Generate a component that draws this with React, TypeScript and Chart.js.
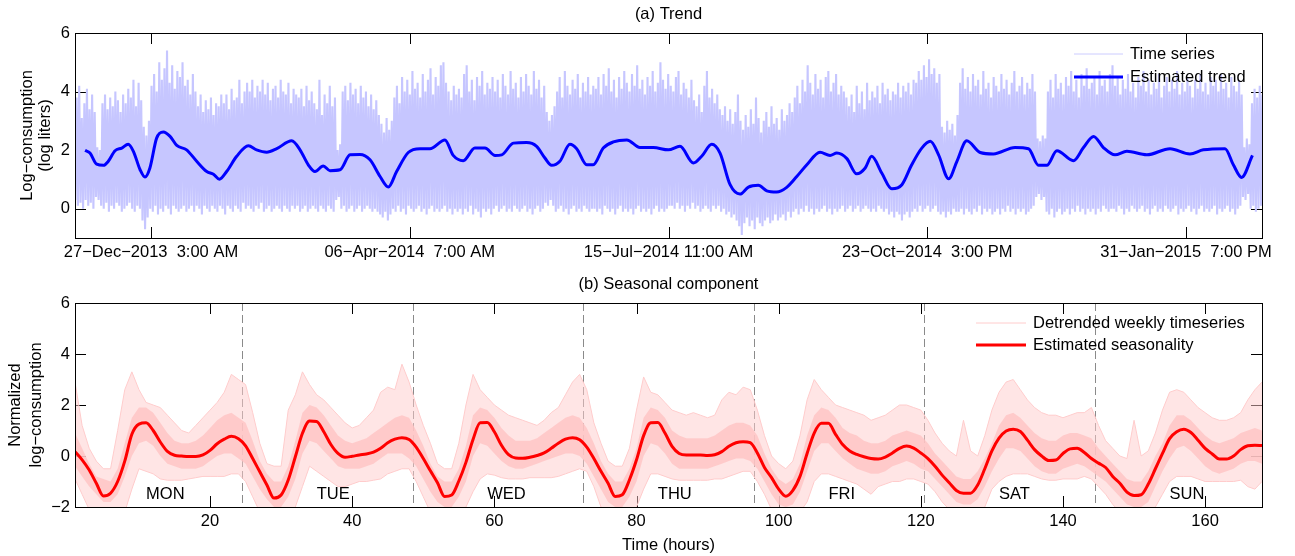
import React, { useEffect, useRef } from "react";
import { Chart, registerables } from "chart.js";

Chart.register(...registerables);

const FONT_FAMILY = '"Liberation Sans", Arial, Helvetica, sans-serif';
const FS = 16.5;

// ---------------- (a) Trend ----------------
const trendXMaxHours = 11028;
const trendTickHours = [706, 3110, 5514, 7918, 10322];
const trendTickLabels = [
  "27−Dec−2013  3:00 AM",
  "06−Apr−2014  7:00 AM",
  "15−Jul−2014 11:00 AM",
  "23−Oct−2014  3:00 PM",
  "31−Jan−2015  7:00 PM",
];
const trendYTicks = [0, 2, 4, 6];

// daily peak of the raw log-consumption series (one value per day)
const tsDailyHigh = [
  3.8,4.2,3.1,3.6,4.1,3.4,3.9,3.3,
  2.1,2.0,
  3.6,3.9,3.4,3.8,3.5,4.0,3.7,3.3,3.9,3.6,4.1,3.8,4.4,3.5,4.3,3.7,
  2.8,2.5,3.0,
  4.2,4.6,4.0,5.0,4.4,4.8,5.4,4.3,4.9,4.1,4.7,4.5,5.0,4.2,4.4,3.9,4.6,4.0,
  3.5,3.9,3.3,3.7,3.4,3.8,3.2,3.6,3.5,3.9,
  3.6,3.9,3.4,4.1,3.7,3.8,4.4,3.6,4.0,4.3,
  4.0,4.4,3.8,4.2,4.0,4.4,3.9,4.3,3.7,4.1,4.2,3.8,4.4,4.0,3.9,4.3,3.6,4.1,3.9,
  3.8,4.1,3.5,4.2,3.7,4.0,3.6,
  3.4,4.4,3.2,3.9,3.6,4.2,3.5,3.8,
  2.0,2.2,
  4.0,4.2,3.7,4.3,3.9,4.1,3.6,4.2,3.8,4.0,3.5,3.9,3.4,3.7,3.2,
  2.9,2.6,3.1,2.7,3.0,
  3.8,4.2,3.6,4.5,4.0,4.4,3.9,4.7,4.1,4.3,3.8,4.6,4.0,4.4,4.8,3.9,4.5,4.2,4.9,5.0,4.3,
  4.0,3.7,4.2,3.9,4.1,
  3.8,4.6,4.9,4.0,4.4,3.7,4.5,4.2,4.7,3.9,4.3,4.1,4.5,
  4.0,4.4,3.8,4.6,4.2,3.9,4.7,4.1,4.3,3.8,4.5,4.0,4.6,4.2,3.9,4.7,4.1,4.4,3.8,4.2,
  3.3,3.0,3.2,3.5,
  4.0,4.5,3.8,4.7,4.2,3.9,4.4,4.1,4.6,3.8,4.3,4.0,4.5,3.9,4.2,
  4.1,4.5,3.9,4.6,4.2,4.8,4.0,4.4,3.8,4.5,4.1,4.7,4.3,4.0,4.6,4.2,4.9,4.1,4.4,3.9,4.5,4.2,4.7,4.0,4.3,5.0,4.4,4.1,4.6,4.2,
  4.0,4.5,4.7,3.9,4.3,4.1,3.8,4.4,3.7,
  3.5,3.9,3.3,4.2,4.7,3.8,4.1,3.6,3.9,3.4,
  3.2,3.5,3.0,3.4,2.9,3.3,
  3.9,3.0,2.7,3.2,2.8,3.4,2.9,3.8,3.1,2.6,3.0,3.3,2.8,3.5,2.9,3.1,2.7,3.4,3.0,3.2,3.6,3.3,
  3.8,4.2,3.6,4.4,4.0,4.9,4.3,3.9,4.6,4.1,4.4,3.8,4.5,4.7,4.0,4.3,4.6,3.9,4.2,4.0,3.8,
  3.5,3.9,3.3,4.2,3.6,4.0,3.4,4.3,3.7,4.0,
  3.8,4.2,3.6,4.3,3.9,4.1,3.7,4.0,
  3.9,4.3,3.8,4.2,4.0,4.3,3.9,4.4,
  4.3,4.7,4.4,4.9,4.5,5.1,4.6,4.8,4.3,4.6,
  2.8,2.6,3.0,2.7,2.9,2.5,3.2,
  4.3,4.8,4.1,4.5,4.0,4.6,4.2,4.4,3.9,4.7,4.1,4.3,3.8,4.5,4.2,4.0,4.6,4.1,4.4,3.9,4.3,4.7,4.0,4.2,4.5,3.9,4.3,4.1,4.6,4.0,
  2.4,2.3,2.5,2.4,
  4.0,4.4,3.8,4.6,4.1,4.3,3.9,4.5,4.2,4.7,4.0,4.4,3.8,4.6,4.2,4.8,4.1,4.3,4.5,3.9,4.7,4.2,4.4,4.0,4.6,4.9,
  4.2,4.5,3.9,4.4,4.1,4.6,4.0,4.3,3.8,4.5,4.2,4.7,4.0,4.4,3.9,4.3,4.1,4.6,3.8,4.2,4.5,4.0,4.4,4.1,4.7,3.9,4.3,4.0,4.5,4.2,3.8,4.4,4.1,4.6,4.0,4.3,3.9,4.5,4.2,4.4,4.0,4.6,4.1,4.3,3.8,4.5,4.2,4.0,4.4,3.9,
  2.1,2.4,2.2,
  3.6,4.1,3.8,4.2,3.9,
];

// daily (night) minimum of the raw series (one value per day)
const tsDailyLow = [
  0.3,0.1,0.2,0.0,0.3,0.1,0.2,0.0,
  0.4,0.3,
  0.1,0.0,0.2,-0.1,0.1,0.0,0.2,0.1,-0.1,0.0,0.1,0.2,0.0,-0.1,0.1,0.0,
  -0.4,-0.7,-0.3,
  0.0,-0.1,0.1,-0.2,0.0,-0.1,0.1,0.0,-0.2,0.1,0.0,-0.1,0.0,0.1,-0.1,0.0,0.1,-0.1,
  0.1,0.0,-0.2,0.1,0.0,-0.1,0.1,0.0,-0.1,0.1,
  0.0,-0.2,0.1,0.0,-0.1,0.1,0.0,-0.1,0.2,0.0,
  0.1,0.0,-0.1,0.1,0.0,0.2,-0.1,0.0,0.1,-0.1,0.0,0.1,0.0,-0.1,0.1,0.0,-0.1,0.1,0.0,
  0.1,-0.1,0.0,0.1,-0.1,0.0,0.1,
  0.0,-0.1,0.1,0.0,-0.1,0.1,0.0,-0.1,
  0.3,0.4,
  0.0,0.1,-0.1,0.0,0.1,-0.1,0.0,0.1,-0.1,0.0,0.1,0.0,-0.1,0.0,-0.1,
  -0.2,-0.3,-0.1,-0.4,-0.2,
  0.0,-0.1,0.1,-0.1,0.0,-0.2,0.1,0.0,-0.1,0.0,0.1,-0.1,0.0,-0.2,0.0,0.1,-0.1,0.0,-0.1,0.0,0.1,
  -0.1,0.0,-0.2,0.0,-0.1,
  0.0,-0.2,0.0,-0.1,0.1,-0.2,0.0,-0.1,-0.3,0.0,-0.1,0.0,-0.2,
  0.0,0.1,-0.1,0.0,0.1,-0.1,0.0,-0.1,0.1,0.0,-0.1,0.0,0.1,-0.1,0.0,-0.2,0.0,0.1,-0.1,0.0,
  0.2,0.1,0.3,0.1,
  -0.1,0.0,0.1,-0.1,0.0,-0.2,0.0,0.1,-0.1,0.0,-0.1,0.1,0.0,-0.1,0.0,
  0.0,-0.1,0.0,-0.2,0.1,0.0,-0.1,0.0,-0.2,0.0,0.1,-0.1,0.0,-0.1,0.0,-0.2,0.0,0.1,-0.1,0.0,-0.1,0.0,-0.2,0.0,0.1,-0.1,0.0,-0.1,0.0,0.1,
  0.1,0.0,0.2,0.0,0.1,-0.1,0.1,0.0,0.2,
  0.0,0.1,-0.1,0.0,0.1,0.0,-0.1,0.1,0.0,0.1,
  -0.1,0.0,-0.2,-0.1,-0.3,-0.2,
  -0.4,-0.6,-0.9,-0.5,-0.3,-0.6,-0.4,-0.7,-0.3,-0.5,-0.6,-0.4,-0.3,-0.5,-0.4,-0.2,-0.4,-0.3,-0.2,-0.4,-0.1,-0.3,
  -0.1,0.0,-0.2,0.0,-0.1,0.1,-0.1,0.0,-0.2,0.0,-0.1,0.0,0.1,-0.1,0.0,-0.2,0.0,-0.1,0.0,0.1,-0.1,
  0.0,0.1,-0.1,0.0,0.1,-0.1,0.0,0.1,0.0,-0.1,
  0.0,-0.1,0.1,0.0,-0.1,0.0,-0.2,-0.1,
  -0.3,-0.1,-0.2,-0.4,-0.2,-0.1,-0.3,-0.1,
  0.0,-0.1,0.1,-0.1,0.0,0.1,-0.1,0.0,0.1,-0.1,
  -0.2,-0.1,-0.3,-0.1,-0.2,0.0,-0.1,
  -0.1,0.0,-0.2,0.0,-0.1,-0.2,0.0,-0.1,0.1,-0.2,0.0,-0.1,0.0,-0.2,-0.1,0.0,-0.2,0.0,-0.1,0.1,-0.1,0.0,-0.2,0.0,-0.1,0.0,-0.2,-0.1,0.0,0.1,
  0.4,0.5,0.3,0.4,
  -0.1,-0.2,0.0,-0.3,-0.1,0.0,-0.2,-0.1,0.0,-0.2,0.0,-0.1,0.1,-0.1,0.0,-0.2,0.0,-0.1,0.0,-0.2,0.0,-0.1,0.1,0.0,-0.1,0.0,
  0.0,-0.1,0.1,0.0,-0.2,0.0,-0.1,0.1,0.0,-0.1,0.0,0.1,-0.1,0.0,-0.2,0.0,0.1,-0.1,0.0,-0.1,0.1,0.0,-0.1,0.0,0.1,-0.2,0.0,-0.1,0.0,0.1,-0.1,0.0,-0.2,0.0,0.1,-0.1,0.0,-0.1,0.0,0.1,-0.2,0.0,-0.1,0.0,0.1,-0.1,0.0,-0.2,0.0,0.1,
  0.4,0.3,0.5,
  0.0,0.1,-0.1,0.0,0.1,
];

// estimated trend, sampled at these day offsets from the series start
const trendDay = [
  3.9,5.8,8.4,11,12.9,15.5,18.1,20.6,22.6,25.2,27.1,29,31.6,34.2,36.8,39.4,43.2,47.1,51,53.6,
  55.9,58.7,62.6,67.1,70.3,74.2,78.1,83.9,87.1,90.3,92.9,96.1,98.7,102.6,106.5,110.3,114.2,118.1,121.3,124.5,
  129,133.6,137.4,143.2,146.4,150.3,154.8,158.7,162.6,165.2,169.7,174.8,178.7,181.9,184.5,187.7,191.6,194.2,198.1,200.6,
  204.5,208.4,213.6,218.7,223.9,229.7,234.2,239.4,242.6,246.5,249.7,253.6,257.4,260.7,264.5,267.8,271.6,275.5,279.4,283.3,
  288.4,292.3,294.9,298.8,302.6,305.9,308.4,312.3,316.2,320.1,323.9,327.8,331.1,334.3,338.2,341.4,345.2,350.4,355.5,363.9,
  369.1,373,376.2,380.1,386.5,390.4,394.3,398.1,402.6,407.2,414.9,423.9,431.6,436.8,445.2,448.4,451.6,455.8,
];
const trendValue = [
  1.99,1.9,1.52,1.48,1.62,1.98,2.07,2.2,1.96,1.33,1.08,1.39,2.41,2.62,2.47,2.16,2.01,1.62,1.27,1.18,
  1.01,1.27,1.79,2.15,2.01,1.93,2.05,2.32,2.01,1.5,1.27,1.46,1.3,1.33,1.84,1.85,1.67,1.1,0.74,1.27,
  1.92,2.05,2.05,2.35,1.82,1.64,2.07,2.07,1.82,1.84,2.24,2.26,2.13,1.73,1.48,1.62,2.2,2.05,1.5,1.5,
  2.07,2.28,2.35,2.09,2.09,2.01,2.13,1.56,1.79,2.2,1.9,0.82,0.5,0.74,0.8,0.61,0.57,0.73,1.1,1.5,
  1.93,1.82,1.9,1.71,1.19,1.39,1.79,1.22,0.68,0.82,1.5,2.07,2.3,1.84,1.02,1.62,2.32,1.92,1.87,2.09,
  2.05,1.48,1.48,1.98,1.64,2.09,2.47,2.09,1.84,1.96,1.84,2.05,1.87,2.01,2.05,1.5,1.07,1.82,
];

// ---------------- (b) Seasonal component ----------------
const weekHours = Array.from({ length: 168 }, (_, i) => i + 1);
const seasonXTicks = [20, 40, 60, 80, 100, 120, 140, 160];
const seasonYTicks = [-2, 0, 2, 4, 6];
const dayNames = ["MON", "TUE", "WED", "THU", "FRI", "SAT", "SUN"];
const dayLabelHours = [11, 35, 59, 83, 107, 131, 155];
const dayBoundaries = [24.5, 48.5, 72.5, 96.5, 120.5, 144.5];

const seasonality = [
  0.17,-0.15,-0.55,-1.07,-1.57,-1.46,-1.0,-0.2,0.85,1.25,1.3,1.0,0.55,0.18,0.03,0.0,-0.02,-0.02,0.04,0.22,0.48,0.66,0.77,0.68,
  0.4,-0.1,-0.62,-1.14,-1.65,-1.53,-0.94,-0.03,0.89,1.37,1.35,0.95,0.45,0.1,-0.05,-0.01,0.04,0.08,0.15,0.3,0.52,0.66,0.72,0.65,
  0.35,-0.1,-0.58,-1.05,-1.59,-1.53,-0.98,-0.25,0.65,1.3,1.31,0.95,0.42,0.05,-0.08,-0.09,-0.05,0.02,0.12,0.3,0.5,0.66,0.72,0.64,
  0.35,-0.1,-0.6,-1.07,-1.59,-1.52,-0.94,-0.15,0.8,1.3,1.31,0.9,0.38,0.1,0.04,0.04,0.04,0.02,0.05,0.17,0.38,0.52,0.56,0.52,
  0.12,-0.45,-0.85,-1.3,-1.58,-1.35,-0.8,0.1,0.9,1.28,1.28,0.85,0.45,0.2,0.06,-0.03,-0.1,-0.12,-0.04,0.12,0.3,0.39,0.31,0.12,
  -0.1,-0.4,-0.75,-1.05,-1.35,-1.46,-1.46,-1.14,-0.5,0.2,0.7,0.98,1.05,0.96,0.62,0.25,0.0,-0.18,-0.16,0.1,0.28,0.3,0.14,-0.1,
  -0.28,-0.45,-0.8,-1.07,-1.42,-1.55,-1.52,-1.1,-0.5,0.1,0.68,0.95,1.05,0.92,0.62,0.3,0.08,-0.12,-0.12,0.0,0.25,0.4,0.42,0.41,
];

// spread of the ~60 detrended weekly curves: outer extremes and dense core
const weeklyOuterUpper = [
  2.9,1.2,0.3,-0.2,-0.5,-0.5,1.0,2.6,3.3,2.6,2.1,2.0,1.9,1.6,1.3,1.0,0.9,1.2,1.5,1.8,2.1,2.5,3.2,3.0,
  2.8,1.7,0.5,-0.3,-0.4,-0.4,1.8,2.4,3.3,2.8,2.4,2.2,1.9,1.6,1.3,1.1,1.2,1.5,1.8,2.5,2.7,2.6,3.6,2.9,
  2.0,1.2,0.5,-0.3,-0.5,-0.5,0.5,2.0,3.2,2.6,2.3,2.0,1.8,1.6,1.5,1.4,1.3,1.2,1.4,1.7,1.9,2.4,2.9,3.2,
  2.6,1.3,0.5,-0.2,-0.4,-0.4,0.3,1.8,3.1,2.5,2.4,2.1,1.8,1.7,1.6,1.7,1.6,1.5,1.6,2.2,2.5,2.4,2.7,2.6,
  1.8,0.8,0.0,-0.3,-0.5,-0.2,0.8,2.2,3.0,2.6,2.3,2.0,1.9,1.8,1.7,1.6,1.4,1.5,1.6,1.8,2.0,2.0,1.9,1.8,
  1.4,0.9,0.5,0.2,0.0,1.4,0.2,0.0,0.8,1.8,2.5,2.9,3.0,2.6,2.2,1.9,1.7,1.6,1.6,1.5,1.6,1.7,1.7,1.9,
  1.2,0.6,0.3,0.0,-0.1,1.4,0.0,0.2,0.9,1.8,2.5,2.6,2.5,2.2,1.9,1.7,1.5,1.4,1.4,1.5,1.7,2.2,2.6,2.9,
];
const weeklyCoreUpper = [
  0.9,0.3,-0.3,-0.8,-0.9,-1.0,-0.5,0.5,1.5,1.9,1.9,1.7,1.3,0.9,0.6,0.5,0.5,0.6,0.8,1.1,1.4,1.6,1.7,1.5,
  1.3,0.6,-0.2,-0.7,-1.0,-1.0,-0.4,0.6,1.7,2.0,1.9,1.6,1.2,0.8,0.6,0.5,0.6,0.7,0.9,1.1,1.3,1.5,1.6,1.5,
  1.0,0.4,-0.3,-0.8,-1.0,-1.0,-0.5,0.4,1.6,1.9,1.8,1.5,1.1,0.8,0.6,0.6,0.6,0.7,0.9,1.1,1.3,1.5,1.6,1.5,
  1.1,0.5,-0.2,-0.7,-1.0,-1.0,-0.5,0.3,1.5,1.9,1.8,1.5,1.0,0.8,0.7,0.7,0.7,0.7,0.8,1.0,1.2,1.3,1.3,1.2,
  0.8,0.1,-0.5,-0.9,-1.1,-0.9,-0.3,0.8,1.6,1.9,1.8,1.5,1.1,0.9,0.8,0.6,0.5,0.5,0.6,0.8,0.9,1.0,0.9,0.8,
  0.5,0.1,-0.2,-0.5,-0.8,-0.9,-0.9,-0.6,-0.1,0.5,1.2,1.6,1.7,1.5,1.2,0.9,0.7,0.6,0.6,0.8,0.9,0.9,0.8,0.7,
  0.3,0.0,-0.3,-0.6,-0.9,-1.0,-1.0,-0.6,0.0,0.5,1.2,1.6,1.6,1.4,1.1,0.8,0.6,0.5,0.6,0.7,0.9,1.0,1.1,1.0,
];
const weeklyCoreLower = [
  -0.4,-0.8,-1.2,-1.5,-1.8,-1.8,-1.5,-0.8,0.0,0.5,0.6,0.4,0.0,-0.3,-0.4,-0.5,-0.5,-0.5,-0.4,-0.2,0.0,0.1,0.1,-0.1,
  -0.3,-0.8,-1.3,-1.7,-2.0,-2.0,-1.6,-0.9,0.1,0.6,0.5,0.2,-0.1,-0.4,-0.5,-0.5,-0.5,-0.4,-0.3,-0.1,0.1,0.1,0.1,-0.1,
  -0.4,-0.9,-1.4,-1.8,-2.0,-2.0,-1.6,-1.0,0.0,0.5,0.4,0.1,-0.2,-0.4,-0.5,-0.5,-0.4,-0.3,-0.2,-0.1,0.0,0.1,0.1,0.0,
  -0.3,-0.8,-1.3,-1.8,-2.0,-2.0,-1.6,-1.0,0.0,0.5,0.4,0.1,-0.3,-0.5,-0.5,-0.5,-0.5,-0.5,-0.4,-0.3,-0.2,-0.1,-0.1,-0.2,
  -0.5,-1.0,-1.5,-1.9,-2.0,-1.9,-1.4,-0.6,0.2,0.5,0.5,0.2,-0.1,-0.3,-0.5,-0.6,-0.7,-0.7,-0.6,-0.4,-0.3,-0.2,-0.3,-0.5,
  -0.6,-0.9,-1.2,-1.5,-1.8,-1.9,-1.9,-1.7,-1.2,-0.6,-0.1,0.3,0.3,0.2,-0.1,-0.4,-0.6,-0.7,-0.7,-0.5,-0.4,-0.3,-0.4,-0.6,
  -0.8,-1.0,-1.3,-1.6,-1.9,-2.0,-2.0,-1.8,-1.2,-0.6,-0.1,0.3,0.4,0.2,-0.1,-0.4,-0.6,-0.7,-0.6,-0.5,-0.3,-0.2,-0.2,-0.3,
];
const weeklyOuterLower = [
  -0.9,-1.5,-2.1,-2.2,-2.2,-2.2,-2.2,-2.2,-1.3,-0.5,-0.6,-0.7,-0.9,-0.95,-0.95,-0.95,-0.9,-0.85,-0.8,-0.8,-0.8,-0.8,-0.7,-0.7,
  -1.0,-1.6,-2.2,-2.2,-2.2,-2.2,-2.2,-2.0,-1.2,-0.4,-0.6,-0.8,-1.0,-1.2,-1.2,-1.1,-1.0,-1.0,-0.95,-0.9,-0.7,-0.6,-0.5,-0.5,
  -1.0,-1.6,-2.2,-2.2,-2.2,-2.2,-2.2,-2.0,-1.4,-0.9,-0.7,-0.75,-0.85,-0.9,-0.9,-0.9,-0.85,-0.85,-0.85,-0.85,-0.8,-0.7,-0.6,-0.5,
  -0.6,-1.2,-2.0,-2.2,-2.2,-2.2,-2.2,-2.0,-1.3,-0.7,-0.7,-0.8,-0.9,-0.95,-0.95,-0.95,-0.95,-0.95,-0.9,-0.9,-0.8,-0.7,-0.6,-0.6,
  -1.0,-1.5,-2.1,-2.2,-2.2,-2.2,-2.2,-1.8,-1.0,-0.7,-0.7,-0.8,-0.9,-1.0,-1.1,-1.3,-1.5,-1.2,-1.1,-1.0,-1.0,-0.9,-0.9,-1.0,
  -1.1,-1.4,-1.8,-2.1,-2.2,-2.2,-2.2,-2.2,-2.0,-1.3,-1.0,-0.8,-0.7,-0.7,-0.7,-0.8,-0.9,-0.95,-0.95,-0.9,-0.9,-0.9,-0.8,-0.9,
  -1.2,-1.5,-1.9,-2.2,-2.2,-2.2,-2.2,-2.2,-2.0,-1.5,-1.0,-0.8,-0.8,-0.8,-0.9,-1.0,-1.0,-1.0,-1.0,-1.0,-0.95,-1.2,-1.3,-1.0,
];

// ---------------- helpers ----------------
const fmtNum = (v: number) => (v < 0 ? "−" + Math.abs(v) : String(v));

const matlabPlugin: any = {
  id: "matlab",
  beforeDatasetsDraw(chart: any, _a: any, o: any) {
    const { ctx, chartArea: a, scales } = chart;
    ctx.save();
    if (o.vlines) {
      ctx.strokeStyle = "#8a8a8a";
      ctx.lineWidth = 1;
      ctx.setLineDash([8, 4]);
      ctx.beginPath();
      o.vlines.forEach((v: number) => {
        const px = Math.round(scales.x.getPixelForValue(v)) + 0.5;
        ctx.moveTo(px, a.top);
        ctx.lineTo(px, a.bottom);
      });
      ctx.stroke();
      ctx.setLineDash([]);
    }
    ctx.strokeStyle = "#000";
    ctx.lineWidth = 1;
    const L = o.tickLen;
    ctx.beginPath();
    scales.x.ticks.forEach((t: any) => {
      const px = Math.round(scales.x.getPixelForValue(t.value)) + 0.5;
      ctx.moveTo(px, a.bottom);
      ctx.lineTo(px, a.bottom - L);
      ctx.moveTo(px, a.top);
      ctx.lineTo(px, a.top + L);
    });
    scales.y.ticks.forEach((t: any) => {
      const py = Math.round(scales.y.getPixelForValue(t.value)) + 0.5;
      ctx.moveTo(a.left, py);
      ctx.lineTo(a.left + L, py);
      ctx.moveTo(a.right, py);
      ctx.lineTo(a.right - L, py);
    });
    ctx.stroke();
    ctx.restore();
  },
  afterDraw(chart: any, _a: any, o: any) {
    const { ctx, chartArea: a, scales } = chart;
    ctx.save();
    ctx.strokeStyle = "#000";
    ctx.lineWidth = 1;
    ctx.strokeRect(Math.round(a.left) + 0.5, Math.round(a.top) + 0.5, Math.round(a.right - a.left), Math.round(a.bottom - a.top));
    ctx.fillStyle = "#000";
    ctx.font = `${FS}px ${FONT_FAMILY}`;
    ctx.textBaseline = "middle";
    ctx.textAlign = "center";
    const cx = (a.left + a.right) / 2;
    ctx.fillText(o.title, cx, o.titleY);
    if (o.xTitle) ctx.fillText(o.xTitle, cx, o.xTitleY);
    ctx.save();
    ctx.translate(0, (a.top + a.bottom) / 2);
    ctx.rotate(-Math.PI / 2);
    o.yTitle.forEach((line: string, i: number) => ctx.fillText(line, 0, o.yTitleX[i]));
    ctx.restore();
    if (o.dayLabels) {
      ctx.textAlign = "left";
      const py = scales.y.getPixelForValue(o.dayLabels.y);
      o.dayLabels.names.forEach((n: string, i: number) => {
        ctx.fillText(n, scales.x.getPixelForValue(o.dayLabels.hours[i]), py);
      });
    }
    if (o.legend) {
      const lg = o.legend;
      lg.items.forEach((dsIndex: number, i: number) => {
        const ds = chart.data.datasets[dsIndex];
        const y = lg.rows[i];
        ctx.strokeStyle = ds.legendColor || ds.borderColor;
        ctx.lineWidth = ds.legendWidth || ds.borderWidth;
        ctx.beginPath();
        ctx.moveTo(lg.x1, y);
        ctx.lineTo(lg.x2, y);
        ctx.stroke();
        ctx.fillStyle = "#000";
        ctx.textAlign = "left";
        ctx.fillText(ds.label, lg.tx, y);
      });
    }
    ctx.restore();
  },
};

const tickFont = { family: FONT_FAMILY, size: FS };

function topConfig(): any {
  const tsPoints: any[] = [];
  const n = Math.min(tsDailyHigh.length, tsDailyLow.length);
  for (let d = 0; d < n; d++) {
    tsPoints.push({ x: d * 24 + 3, y: tsDailyLow[d] });
    tsPoints.push({ x: d * 24 + 15, y: tsDailyHigh[d] });
  }
  const trendPoints = trendDay.map((d, i) => ({ x: d * 24, y: trendValue[i] }));
  return {
    type: "line",
    data: {
      datasets: [
        { label: "Estimated trend", data: trendPoints, borderColor: "#0000ff", borderWidth: 3, pointRadius: 0, cubicInterpolationMode: "monotone", fill: false, clip: 0 },
        { label: "Time series", data: tsPoints, borderColor: "#c6c6ff", borderWidth: 2.1, legendWidth: 1, legendColor: "#ccccff", pointRadius: 0, tension: 0, fill: false, clip: 0 },
      ],
    },
    options: {
      animation: false,
      responsive: false,
      events: [],
      layout: { padding: { top: 33, right: 33, left: 0, bottom: 0 } },
      scales: {
        x: {
          type: "linear", min: 0, max: trendXMaxHours,
          afterBuildTicks: (s: any) => { s.ticks = trendTickHours.map((v) => ({ value: v })); },
          afterFit: (s: any) => { s.height = 32; },
          grid: { display: false, drawTicks: false }, border: { display: false },
          ticks: { autoSkip: false, maxRotation: 0, minRotation: 0, padding: 5, color: "#000", font: tickFont,
            callback: (_v: any, i: number) => trendTickLabels[i] },
        },
        y: {
          type: "linear", min: -1, max: 6,
          afterBuildTicks: (s: any) => { s.ticks = trendYTicks.map((v) => ({ value: v })); },
          afterFit: (s: any) => { s.width = 75; },
          grid: { display: false, drawTicks: false }, border: { display: false },
          ticks: { padding: 5, color: "#000", font: tickFont, callback: (v: any) => fmtNum(v) },
        },
      },
      plugins: {
        legend: { display: false },
        title: { display: false },
        tooltip: { enabled: false },
        matlab: {
          tickLen: 11,
          title: "(a) Trend", titleY: 14,
          yTitle: ["Log−consumption", "(log liters)"], yTitleX: [27, 45],
          legend: { items: [1, 0], x1: 1074, x2: 1123, tx: 1130, rows: [54, 77] },
        },
      },
    },
    plugins: [matlabPlugin],
  };
}

function bottomConfig(): any {
  const pts = (arr: number[]) => weekHours.map((h, i) => ({ x: h, y: arr[i] }));
  return {
    type: "line",
    data: {
      datasets: [
        { label: "Estimated seasonality", data: pts(seasonality), borderColor: "#ff0000", borderWidth: 3, pointRadius: 0, cubicInterpolationMode: "monotone", fill: false, clip: 0 },
        { label: "core upper", data: pts(weeklyCoreUpper), borderColor: "rgba(255,204,204,0)", borderWidth: 0, pointRadius: 0, tension: 0, fill: "+1", backgroundColor: "rgba(255,196,196,0.8)", clip: 0 },
        { label: "core lower", data: pts(weeklyCoreLower), borderColor: "rgba(255,204,204,0)", borderWidth: 0, pointRadius: 0, tension: 0, fill: false, clip: 0 },
        { label: "Detrended weekly timeseries", data: pts(weeklyOuterUpper), borderColor: "#ffcccc", borderWidth: 1, pointRadius: 0, tension: 0, fill: "+1", backgroundColor: "rgba(255,204,204,0.5)", clip: 0 },
        { label: "outer lower", data: pts(weeklyOuterLower), borderColor: "#ffcccc", borderWidth: 1, pointRadius: 0, tension: 0, fill: false, clip: 0 },
      ],
    },
    options: {
      animation: false,
      responsive: false,
      events: [],
      layout: { padding: { top: 33, right: 33, left: 0, bottom: 0 } },
      scales: {
        x: {
          type: "linear", min: 1, max: 168,
          afterBuildTicks: (s: any) => { s.ticks = seasonXTicks.map((v) => ({ value: v })); },
          afterFit: (s: any) => { s.height = 49; },
          grid: { display: false, drawTicks: false }, border: { display: false },
          ticks: { autoSkip: false, maxRotation: 0, minRotation: 0, padding: 5, color: "#000", font: tickFont },
        },
        y: {
          type: "linear", min: -2, max: 6,
          afterBuildTicks: (s: any) => { s.ticks = seasonYTicks.map((v) => ({ value: v })); },
          afterFit: (s: any) => { s.width = 75; },
          grid: { display: false, drawTicks: false }, border: { display: false },
          ticks: { padding: 5, color: "#000", font: tickFont, callback: (v: any) => fmtNum(v) },
        },
      },
      plugins: {
        legend: { display: false },
        title: { display: false },
        tooltip: { enabled: false },
        filler: { propagate: false },
        matlab: {
          tickLen: 11,
          title: "(b) Seasonal component", titleY: 14,
          xTitle: "Time (hours)", xTitleY: 275,
          yTitle: ["Normalized", "log−consumption"], yTitleX: [15, 36],
          vlines: dayBoundaries,
          dayLabels: { names: dayNames, hours: dayLabelHours, y: -1.5 },
          legend: { items: [3, 0], x1: 976, x2: 1026, tx: 1033, rows: [53, 75] },
        },
      },
    },
    plugins: [matlabPlugin],
  };
}

export default function App() {
  const topRef = useRef<HTMLCanvasElement>(null);
  const botRef = useRef<HTMLCanvasElement>(null);
  useEffect(() => {
    document.body.style.margin = "0";
    const c1 = new Chart(topRef.current as HTMLCanvasElement, topConfig());
    const c2 = new Chart(botRef.current as HTMLCanvasElement, bottomConfig());
    return () => {
      c1.destroy();
      c2.destroy();
    };
  }, []);
  return (
    <div style={{ width: 1295, height: 556, background: "#fff" }}>
      <canvas ref={topRef} width={1295} height={270} style={{ display: "block", width: 1295, height: 270 }} />
      <canvas ref={botRef} width={1295} height={286} style={{ display: "block", width: 1295, height: 286 }} />
    </div>
  );
}
